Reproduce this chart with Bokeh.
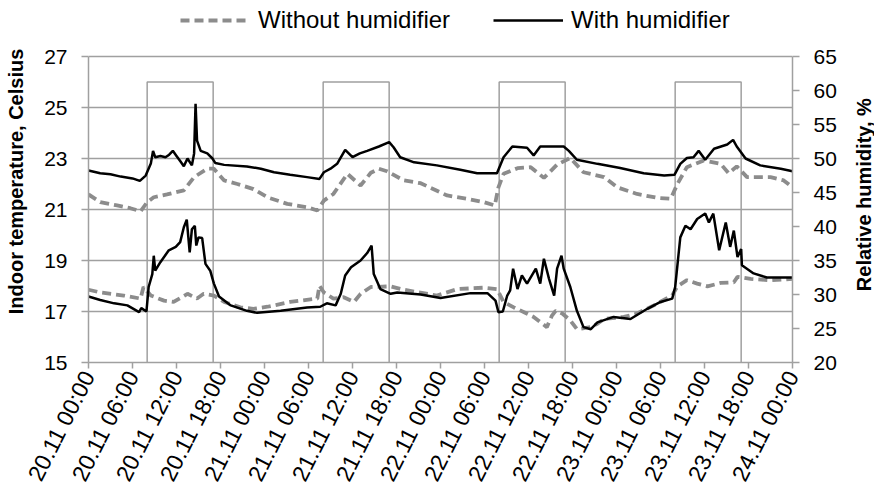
import math
from bokeh.plotting import figure
from bokeh.layouts import row
from bokeh.models import Range1d, LinearAxis, FixedTicker, Legend, LegendItem
from bokeh.core.properties import value
from bokeh.embed import file_html
from bokeh.resources import INLINE

FONT = "Liberation Sans"

# ---------------- data ----------------
tick_hours = [0, 6, 12, 18, 24, 30, 36, 42, 48, 54, 60, 66, 72, 78, 84, 90, 96]
tick_labels = ["20.11 00:00", "20.11 06:00", "20.11 12:00", "20.11 18:00",
               "21.11 00:00", "21.11 06:00", "21.11 12:00", "21.11 18:00",
               "22.11 00:00", "22.11 06:00", "22.11 12:00", "22.11 18:00",
               "23.11 00:00", "23.11 06:00", "23.11 12:00", "23.11 18:00",
               "24.11 00:00"]
temp_ticks = [15, 17, 19, 21, 23, 25, 27]
rh_ticks = [20, 25, 30, 35, 40, 45, 50, 55, 60, 65]

occupied_start = [8, 32, 56, 80]
occupied_end = [17, 41, 65, 89]
occupied_level = 26
occupied_base = 15

with_temp_h = [0, 1.6, 3.0, 4.4, 6.0, 7.0, 7.8, 8.5, 8.8, 9.1, 9.8, 10.5, 11.0, 11.5, 12.0,
               12.5, 13.0, 13.5, 14.1, 14.4, 14.6, 14.8, 15.3, 16.2, 16.9, 17.3, 18.5, 21.6,
               23.5, 25.3, 27.5, 29.8, 31.5, 32.1, 33.0, 33.9, 35.0, 36.0, 37.0, 38.0, 39.6,
               41.0, 41.6, 42.5, 44.4, 47.5, 50.7, 53.0, 55.7, 56.6, 57.8, 59.8, 60.7, 61.6,
               64.8, 65.5, 66.6, 69.4, 72.5, 75.7, 78.5, 79.9, 80.7, 81.6, 82.5, 83.2, 84.1,
               85.3, 87.1, 87.9, 88.4, 89.6, 91.6, 94.4, 96.0]
with_temp = [22.53, 22.42, 22.38, 22.29, 22.22, 22.12, 22.33, 22.8, 23.3, 23.05, 23.1, 23.05,
             23.15, 23.3, 23.1, 22.9, 22.7, 23.0, 22.73, 23.2, 25.15, 23.7, 23.3, 23.2, 23.0,
             22.82, 22.75, 22.69, 22.6, 22.46, 22.36, 22.27, 22.2, 22.46, 22.6, 22.79, 23.34,
             23.05, 23.2, 23.3, 23.47, 23.64, 23.44, 23.05, 22.85, 22.73, 22.56, 22.42, 22.42,
             23.05, 23.47, 23.42, 23.12, 23.47, 23.47, 23.3, 22.95, 22.79, 22.63, 22.42, 22.33,
             22.36, 22.79, 23.02, 23.05, 23.3, 22.95, 23.38, 23.55, 23.73, 23.47, 23.0, 22.73,
             22.6, 22.5]

without_temp_h = [0, 1.6, 3.9, 5.7, 7.1, 8.0, 8.9, 10.7, 13.0, 14.4, 16.2, 17.1, 18.5, 20.3,
                  22.5, 24.4, 27.1, 29.8, 31.2, 32.1, 33.4, 35.3, 37.1, 38.5, 39.6, 40.7, 43.0,
                  45.3, 48.9, 51.6, 53.9, 55.4, 55.9, 56.6, 58.5, 60.3, 62.1, 63.9, 65.7, 67.5,
                  70.3, 72.1, 74.8, 77.5, 79.4, 80.3, 81.6, 83.9, 86.2, 87.3, 88.4, 89.8, 93.0,
                  94.8, 96.0]
without_temp = [21.59, 21.29, 21.16, 21.05, 20.93, 21.29, 21.48, 21.59, 21.75, 22.27, 22.6,
                22.6, 22.14, 22.0, 21.8, 21.48, 21.22, 21.09, 20.96, 21.35, 21.61, 22.4, 21.94,
                22.44, 22.6, 22.5, 22.14, 22.03, 21.55, 21.42, 21.29, 21.16, 21.87, 22.4, 22.62,
                22.66, 22.24, 22.76, 23.02, 22.46, 22.27, 21.87, 21.61, 21.46, 21.42, 22.0,
                22.66, 22.92, 22.79, 22.42, 22.69, 22.27, 22.27, 22.14, 21.87]

with_rh_h = [0, 1.6, 3.5, 5.3, 6.9, 7.2, 7.9, 8.2, 8.7, 8.9, 9.1, 9.8, 10.95, 11.9, 12.5, 13.0,
             13.4, 13.8, 14.1, 14.5, 14.7, 15.0, 15.5, 15.95, 16.6, 17.1, 17.8, 19.4, 21.6, 23.0,
             26.2, 29.8, 31.6, 32.5, 33.7, 34.4, 35.0, 35.8, 37.1, 38.0, 38.6, 38.9, 39.8, 41.2,
             42.1, 45.3, 48.0, 52.1, 54.4, 55.5, 55.9, 56.5, 57.1, 57.5, 57.9, 58.5, 59.1, 59.8,
             61.0, 61.6, 62.1, 62.8, 63.5, 63.9, 64.5, 64.8, 65.7, 66.6, 67.5, 68.5, 69.4, 71.6,
             73.9, 76.2, 78.0, 79.6, 80.0, 80.7, 81.4, 82.1, 83.0, 84.1, 84.6, 85.2, 86.0, 86.9,
             87.5, 88.0, 88.5, 89.0, 89.1, 90.7, 92.5, 96.0]
with_rh = [29.7, 29.2, 28.7, 28.4, 27.4, 28.0, 27.5, 31.1, 33.0, 35.7, 33.5, 34.75, 36.5, 37.0,
           37.7, 39.9, 41.0, 36.2, 39.6, 40.1, 37.2, 38.4, 38.3, 34.5, 33.5, 31.6, 29.7, 28.4,
           27.6, 27.3, 27.6, 28.1, 28.2, 28.7, 28.4, 30.1, 32.8, 34.0, 35.0, 36.1, 37.2, 33.0,
           30.8, 30.1, 30.3, 30.0, 29.5, 30.2, 30.2, 29.1, 27.4, 27.5, 29.85, 30.6, 33.8, 30.8,
           32.8, 31.6, 33.8, 31.6, 35.25, 32.3, 29.85, 33.8, 35.7, 33.8, 31.1, 27.6, 25.2, 24.9,
           25.9, 26.7, 26.4, 27.9, 28.9, 29.4, 31.1, 38.4, 40.1, 39.6, 41.1, 41.9, 40.6, 41.9,
           36.5, 40.6, 37.0, 39.4, 35.5, 36.7, 34.3, 33.1, 32.5, 32.5]

without_rh_h = [0, 1.6, 4.8, 7.1, 7.5, 8.5, 10.3, 11.6, 13.5, 14.8, 15.7, 17.1, 18.5, 20.7,
                22.5, 24.4, 27.5, 31.2, 31.5, 32.1, 33.4, 34.8, 36.2, 37.1, 38.5, 41.2, 43.0,
                47.5, 50.3, 53.9, 55.7, 56.6, 58.0, 59.4, 60.7, 62.5, 63.2, 63.7, 64.6, 65.7,
                66.6, 68.5, 69.4, 70.3, 73.0, 74.8, 77.1, 79.6, 80.3, 81.6, 83.0, 84.4, 86.2,
                88.0, 88.5, 90.3, 93.0, 96.0]
without_rh = [30.7, 30.3, 29.85, 29.4, 31.1, 29.85, 29.1, 28.9, 30.1, 29.4, 30.1, 29.85, 28.9,
              28.1, 27.9, 28.2, 28.9, 29.4, 31.3, 30.3, 29.4, 29.6, 28.9, 30.1, 31.1, 31.2,
              30.7, 29.85, 30.8, 31.0, 30.8, 28.9, 28.1, 27.4, 26.7, 25.2, 26.9, 27.6, 27.2,
              26.2, 24.9, 25.2, 25.7, 26.4, 26.7, 27.2, 28.4, 29.85, 31.2, 32.1, 31.6, 31.2,
              31.7, 31.8, 32.6, 32.3, 32.1, 32.3]

rh_title_text = "Relative humidity, %"
temp_title_text = "Indoor temperature, Celsius"

# ---------------- figure ----------------
W_TOTAL, H = 874, 496
W_SIDE = 22
W = W_TOTAL - W_SIDE
BL, BR, BT, BB = 88, W - 792, 0, 134
frame_w = W - BL - BR
frame_h = H - BT - BB
px_per_deg = 25.5
t_top = 15 + frame_h / px_per_deg
rh_top = 20 + (t_top - 15) * 3.75

p = figure(width=W, height=H, output_backend="svg", toolbar_location=None,
           x_range=Range1d(0, 96), y_range=Range1d(15, t_top),
           min_border_left=BL, min_border_right=BR, min_border_top=BT, min_border_bottom=BB)
p.outline_line_color = None
p.background_fill_color = "white"
p.border_fill_color = "white"
p.extra_y_ranges = {"rh": Range1d(20, rh_top)}

GRAY = "#a0a0a0"

# x axis
xa = p.xaxis[0]
xa.ticker = FixedTicker(ticks=tick_hours)
xa.major_label_overrides = {h: lab for h, lab in zip(tick_hours, tick_labels)}
xa.major_label_orientation = 1.1
xa.major_label_text_font = FONT
xa.major_label_text_font_size = "23px"
xa.major_label_text_color = "black"
xa.major_label_standoff = 4
xa.axis_line_color = GRAY
xa.axis_line_width = 1.5
xa.major_tick_line_color = GRAY
xa.major_tick_line_width = 1.5
xa.major_tick_in = 0
xa.major_tick_out = 6
xa.minor_tick_line_color = None

# left axis
ya = p.yaxis[0]
ya.ticker = FixedTicker(ticks=temp_ticks)
ya.bounds = (15, 27)
ya.axis_label = temp_title_text
ya.axis_label_text_font = FONT
ya.axis_label_text_font_style = "bold"
ya.axis_label_text_font_size = "20px"
ya.axis_label_text_color = "black"
ya.axis_label_standoff = 14
ya.major_label_text_font = FONT
ya.major_label_text_font_size = "21px"
ya.major_label_text_color = "black"
ya.major_label_standoff = 14
ya.axis_line_color = GRAY
ya.axis_line_width = 1.5
ya.major_tick_line_color = GRAY
ya.major_tick_line_width = 1.5
ya.major_tick_in = 0
ya.major_tick_out = 7
ya.minor_tick_line_color = None

# right axis
ra = LinearAxis(y_range_name="rh", ticker=FixedTicker(ticks=rh_ticks), bounds=(20, 65))
ra.major_label_text_font = FONT
ra.major_label_text_font_size = "21px"
ra.major_label_text_color = "black"
ra.major_label_standoff = 14
ra.axis_line_color = GRAY
ra.axis_line_width = 1.5
ra.major_tick_line_color = GRAY
ra.major_tick_line_width = 1.5
ra.major_tick_in = 0
ra.major_tick_out = 7
ra.minor_tick_line_color = None
p.add_layout(ra, "right")

# grids
p.xgrid.grid_line_color = None
p.ygrid.ticker = FixedTicker(ticks=temp_ticks)
p.ygrid.grid_line_color = GRAY
p.ygrid.grid_line_width = 1.5

# occupancy rectangles
occ_xs = [[s, s, e, e] for s, e in zip(occupied_start, occupied_end)]
occ_ys = [[occupied_base, occupied_level, occupied_level, occupied_base] for _ in occupied_start]
p.multi_line(occ_xs, occ_ys, line_color=GRAY, line_width=1.5)

# series
DASH_GRAY = "#8c8c8c"
r_wo_t = p.line(without_temp_h, without_temp, line_color=DASH_GRAY, line_width=3.8,
                line_dash="9 5")
p.line(without_rh_h, without_rh, line_color=DASH_GRAY, line_width=3.8, line_dash="9 5",
       y_range_name="rh")
r_w_t = p.line(with_temp_h, with_temp, line_color="black", line_width=2.5)
p.line(with_rh_h, with_rh, line_color="black", line_width=2.5, y_range_name="rh")

legend = Legend(items=[LegendItem(label="Without humidifier", renderers=[r_wo_t]),
                       LegendItem(label="With humidifier", renderers=[r_w_t])],
                orientation="horizontal", location=(92, frame_h - 34),
                glyph_width=70, glyph_height=20, label_standoff=8, spacing=43,
                padding=0, margin=0,
                label_text_font=FONT, label_text_font_size="24px", label_text_color="black",
                background_fill_alpha=0, border_line_alpha=0)
p.add_layout(legend, "center")

# narrow side panel holding the right axis title (reads bottom-to-top)
side = figure(width=W_SIDE, height=H, output_backend="svg", toolbar_location=None,
              x_range=Range1d(0, W_SIDE), y_range=Range1d(0, H),
              x_axis_type=None, y_axis_type=None,
              min_border_left=0, min_border_right=0, min_border_top=0, min_border_bottom=0)
side.outline_line_color = None
side.background_fill_color = "white"
side.border_fill_color = "white"
side.text(x=[W_SIDE / 2], y=[H - 266], text=[rh_title_text], angle=math.pi / 2,
          text_align="center", text_baseline="middle",
          text_font=value(FONT), text_font_style=value("bold"), text_font_size=value("20px"),
          text_color="black")

layout = row(p, side, spacing=0)
open("out.html", "w").write(file_html(layout, INLINE))
